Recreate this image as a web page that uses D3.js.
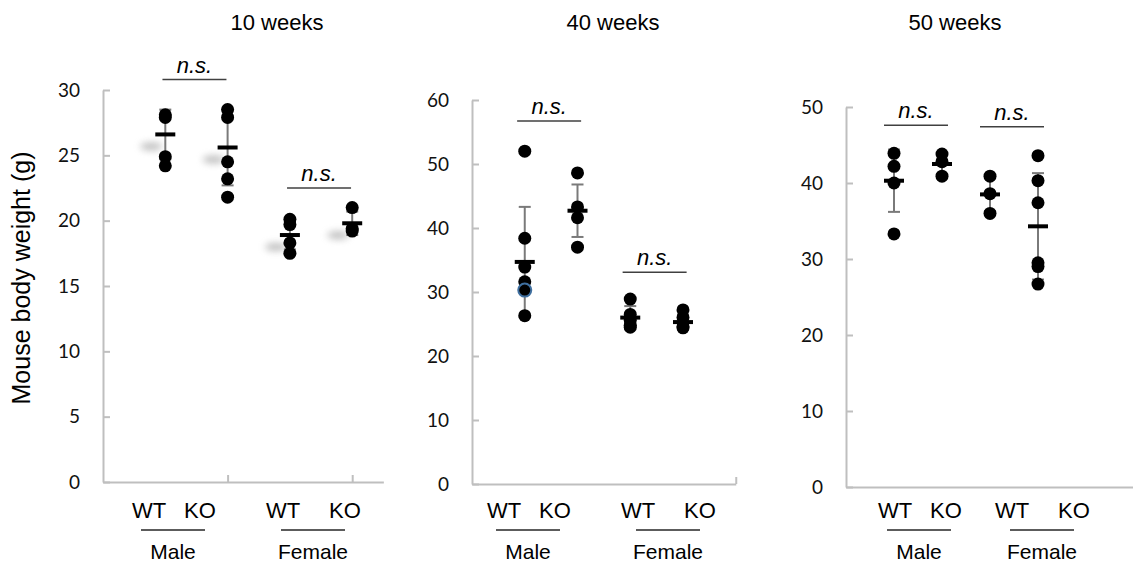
<!DOCTYPE html>
<head>
    <title>Mouse body weight</title>
    <script src="https://cdn.jsdelivr.net/npm/d3@7"></script>
    <style>
        body { margin: 0; background: #fff; }
    </style>
</head>
<body>
<div id="container"></div>

<script>

// Panels and groups
const panels = ["10 weeks", "40 weeks", "50 weeks"];
const groups = ["WT Male", "KO Male", "WT Female", "KO Female"];
const yMaxes = [30, 60, 50];
const yTickSteps = [5, 10, 10];

// Individual mice (g), one list per group
const weeks10 = [[28.1, 27.9, 24.9, 24.2], [28.5, 27.9, 24.5, 23.2, 21.8], [20.1, 19.7, 18.3, 17.5], [21.0, 19.4, 19.2]];
const weeks40 = [[52.0, 38.4, 33.9, 31.6, 30.3, 26.3], [48.6, 43.3, 41.6, 37.0], [28.9, 26.5, 25.6, 24.8, 24.5], [27.2, 26.0, 24.6, 24.4]];
const weeks50 = [[43.9, 42.2, 40.0, 33.3], [43.8, 42.8, 40.9], [40.9, 38.6, 36.0], [43.6, 40.3, 37.4, 29.5, 29.0, 26.7]];

// Mean and SD shown on the chart
const means10 = [26.6, 25.6, 18.9, 19.8];
const sd10 = [1.9, 2.9, 1.1, 0.9];
const means40 = [34.7, 42.7, 26.0, 25.3];
const sd40 = [8.6, 4.1, 1.8, 1.2];
const means50 = [40.3, 42.5, 38.5, 34.3];
const sd50 = [4.1, 1.3, 2.2, 7.0];

// Height of the "n.s." brackets (g)
const nsLevels = [[30.8, 22.5], [56.7, 33.1], [47.6, 47.4]];

const allPoints = [weeks10, weeks40, weeks50];
const allMeans = [means10, means40, means50];
const allSd = [sd10, sd40, sd50];

// Layout of each panel
const width = 1133;
const height = 565;
const axisX = [103, 472, 846];
const step = [62.3, 52.75, 48];
const xEnd = [4.5, 5, 6];
const xTicks = [[2, 4], [5], []];
const yTop = [90, 100, 107];
const yBottom = [482, 484, 487];
const titleX = [277, 613, 955];
const blockX = [[173, 313], [528, 668], [919, 1042]];

const axisColor = "#bfbfbf";
const arial = "Arial, 'Liberation Sans', sans-serif";

const svg = d3.create("svg")
              .attr("width", width)
              .attr("height", height)
              .style("font-family", arial);

// Flou pour les ombres des moyennes (10 weeks)
svg.append("defs").append("filter")
   .attr("id", "blur")
   .attr("x", "-50%").attr("y", "-100%")
   .attr("width", "200%").attr("height", "300%")
   .append("feGaussianBlur")
   .attr("stdDeviation", 3.5);

// Y label
svg.append("text")
   .attr("transform", "translate(30,278) rotate(-90)")
   .attr("text-anchor", "middle")
   .style("font-size", "25px")
   .text("Mouse body weight (g)");

panels.forEach((title, p) => {
    const g = svg.append("g");

    const x = d3.scaleLinear()
                .domain([0, xEnd[p]])
                .range([axisX[p], axisX[p] + xEnd[p] * step[p]]);
    const y = d3.scaleLinear()
                .domain([0, yMaxes[p]])
                .range([yBottom[p], yTop[p]]);

    // Axe Y
    const yAxis = g.append("g")
        .attr("transform", `translate(${axisX[p]},0)`)
        .call(d3.axisLeft(y)
                .tickValues(d3.range(0, yMaxes[p] + 1, yTickSteps[p]))
                .tickSizeInner(-7)
                .tickSizeOuter(0)
                .tickPadding(23));
    yAxis.selectAll("path, line").attr("stroke", axisColor).attr("stroke-width", 2);
    yAxis.selectAll("text")
         .attr("fill", "#111")
         .style("font-family", "Lato, 'Open Sans', sans-serif")
         .style("font-size", "19px");

    // Axe X
    const xAxis = g.append("g")
        .attr("transform", `translate(0,${y(0)})`)
        .call(d3.axisBottom(x)
                .tickValues(xTicks[p])
                .tickSizeInner(-7)
                .tickSizeOuter(0)
                .tickFormat(""));
    xAxis.selectAll("path, line").attr("stroke", axisColor).attr("stroke-width", 2);

    // Titre
    g.append("text")
     .attr("x", titleX[p])
     .attr("y", 30)
     .attr("text-anchor", "middle")
     .style("font-size", "22px")
     .text(title);

    const means = allMeans[p];
    const sd = allSd[p];

    // Ombres des moyennes (seulement à 10 semaines)
    if (p === 0) {
        g.selectAll("ellipse.shadow")
         .data(means)
         .enter().append("ellipse")
         .attr("class", "shadow")
         .attr("cx", (d, i) => x(i + 1) - 14)
         .attr("cy", d => y(d) + 12)
         .attr("rx", 11)
         .attr("ry", 4)
         .attr("fill", "#8c8c8c")
         .attr("opacity", 0.55)
         .attr("filter", "url(#blur)");
    }

    // Barres d'erreur
    const err = g.selectAll("g.err")
        .data(means)
        .enter().append("g")
        .attr("class", "err")
        .attr("stroke", "#7a7a7a")
        .attr("stroke-width", 2);
    err.append("line")
       .attr("x1", (d, i) => x(i + 1))
       .attr("x2", (d, i) => x(i + 1))
       .attr("y1", (d, i) => y(d + sd[i]))
       .attr("y2", (d, i) => y(d - sd[i]));
    err.append("line")
       .attr("x1", (d, i) => x(i + 1) - 6)
       .attr("x2", (d, i) => x(i + 1) + 6)
       .attr("y1", (d, i) => y(d + sd[i]))
       .attr("y2", (d, i) => y(d + sd[i]));
    err.append("line")
       .attr("x1", (d, i) => x(i + 1) - 6)
       .attr("x2", (d, i) => x(i + 1) + 6)
       .attr("y1", (d, i) => y(d - sd[i]))
       .attr("y2", (d, i) => y(d - sd[i]));

    // Points individuels
    const dots = allPoints[p].flatMap((vals, i) => vals.map((v, j) => ({group: i, value: v, index: j})));
    g.selectAll("circle")
     .data(dots)
     .enter().append("circle")
     .attr("cx", d => x(d.group + 1))
     .attr("cy", d => y(d.value))
     .attr("r", 6.5)
     .attr("fill", "#000")
     .attr("stroke", d => (p === 1 && d.group === 0 && d.index === 4) ? "#3f6f9f" : "none")
     .attr("stroke-width", 2);

    // Moyennes
    g.selectAll("rect.mean")
     .data(means)
     .enter().append("rect")
     .attr("class", "mean")
     .attr("x", (d, i) => x(i + 1) - 10)
     .attr("y", d => y(d) - 2)
     .attr("width", 20)
     .attr("height", 4)
     .attr("fill", "#000");

    // n.s.
    nsLevels[p].forEach((level, k) => {
        const cx = (x(2 * k + 1) + x(2 * k + 2)) / 2 - 2;
        g.append("line")
         .attr("x1", cx - 32).attr("x2", cx + 32)
         .attr("y1", y(level)).attr("y2", y(level))
         .attr("stroke", "#404040")
         .attr("stroke-width", 1.5);
        g.append("text")
         .attr("x", cx)
         .attr("y", y(level) - 7)
         .attr("text-anchor", "middle")
         .style("font-size", "22px")
         .style("font-style", "italic")
         .text("n.s.");
    });

    // Etiquettes WT / KO, Male / Female
    ["Male", "Female"].forEach((sex, k) => {
        const cx = blockX[p][k];
        const gap = k === 0 ? [-24, 27] : [-30, 32];
        ["WT", "KO"].forEach((geno, j) => {
            g.append("text")
             .attr("x", cx + gap[j])
             .attr("y", 518)
             .attr("text-anchor", "middle")
             .style("font-size", "22px")
             .text(geno);
        });
        g.append("line")
         .attr("x1", cx - 32).attr("x2", cx + 32)
         .attr("y1", 530).attr("y2", 530)
         .attr("stroke", "#262626")
         .attr("stroke-width", 1.5);
        g.append("text")
         .attr("x", cx)
         .attr("y", 559)
         .attr("text-anchor", "middle")
         .style("font-size", "21px")
         .text(sex);
    });
});

container.append(svg.node());

</script>
</body>
